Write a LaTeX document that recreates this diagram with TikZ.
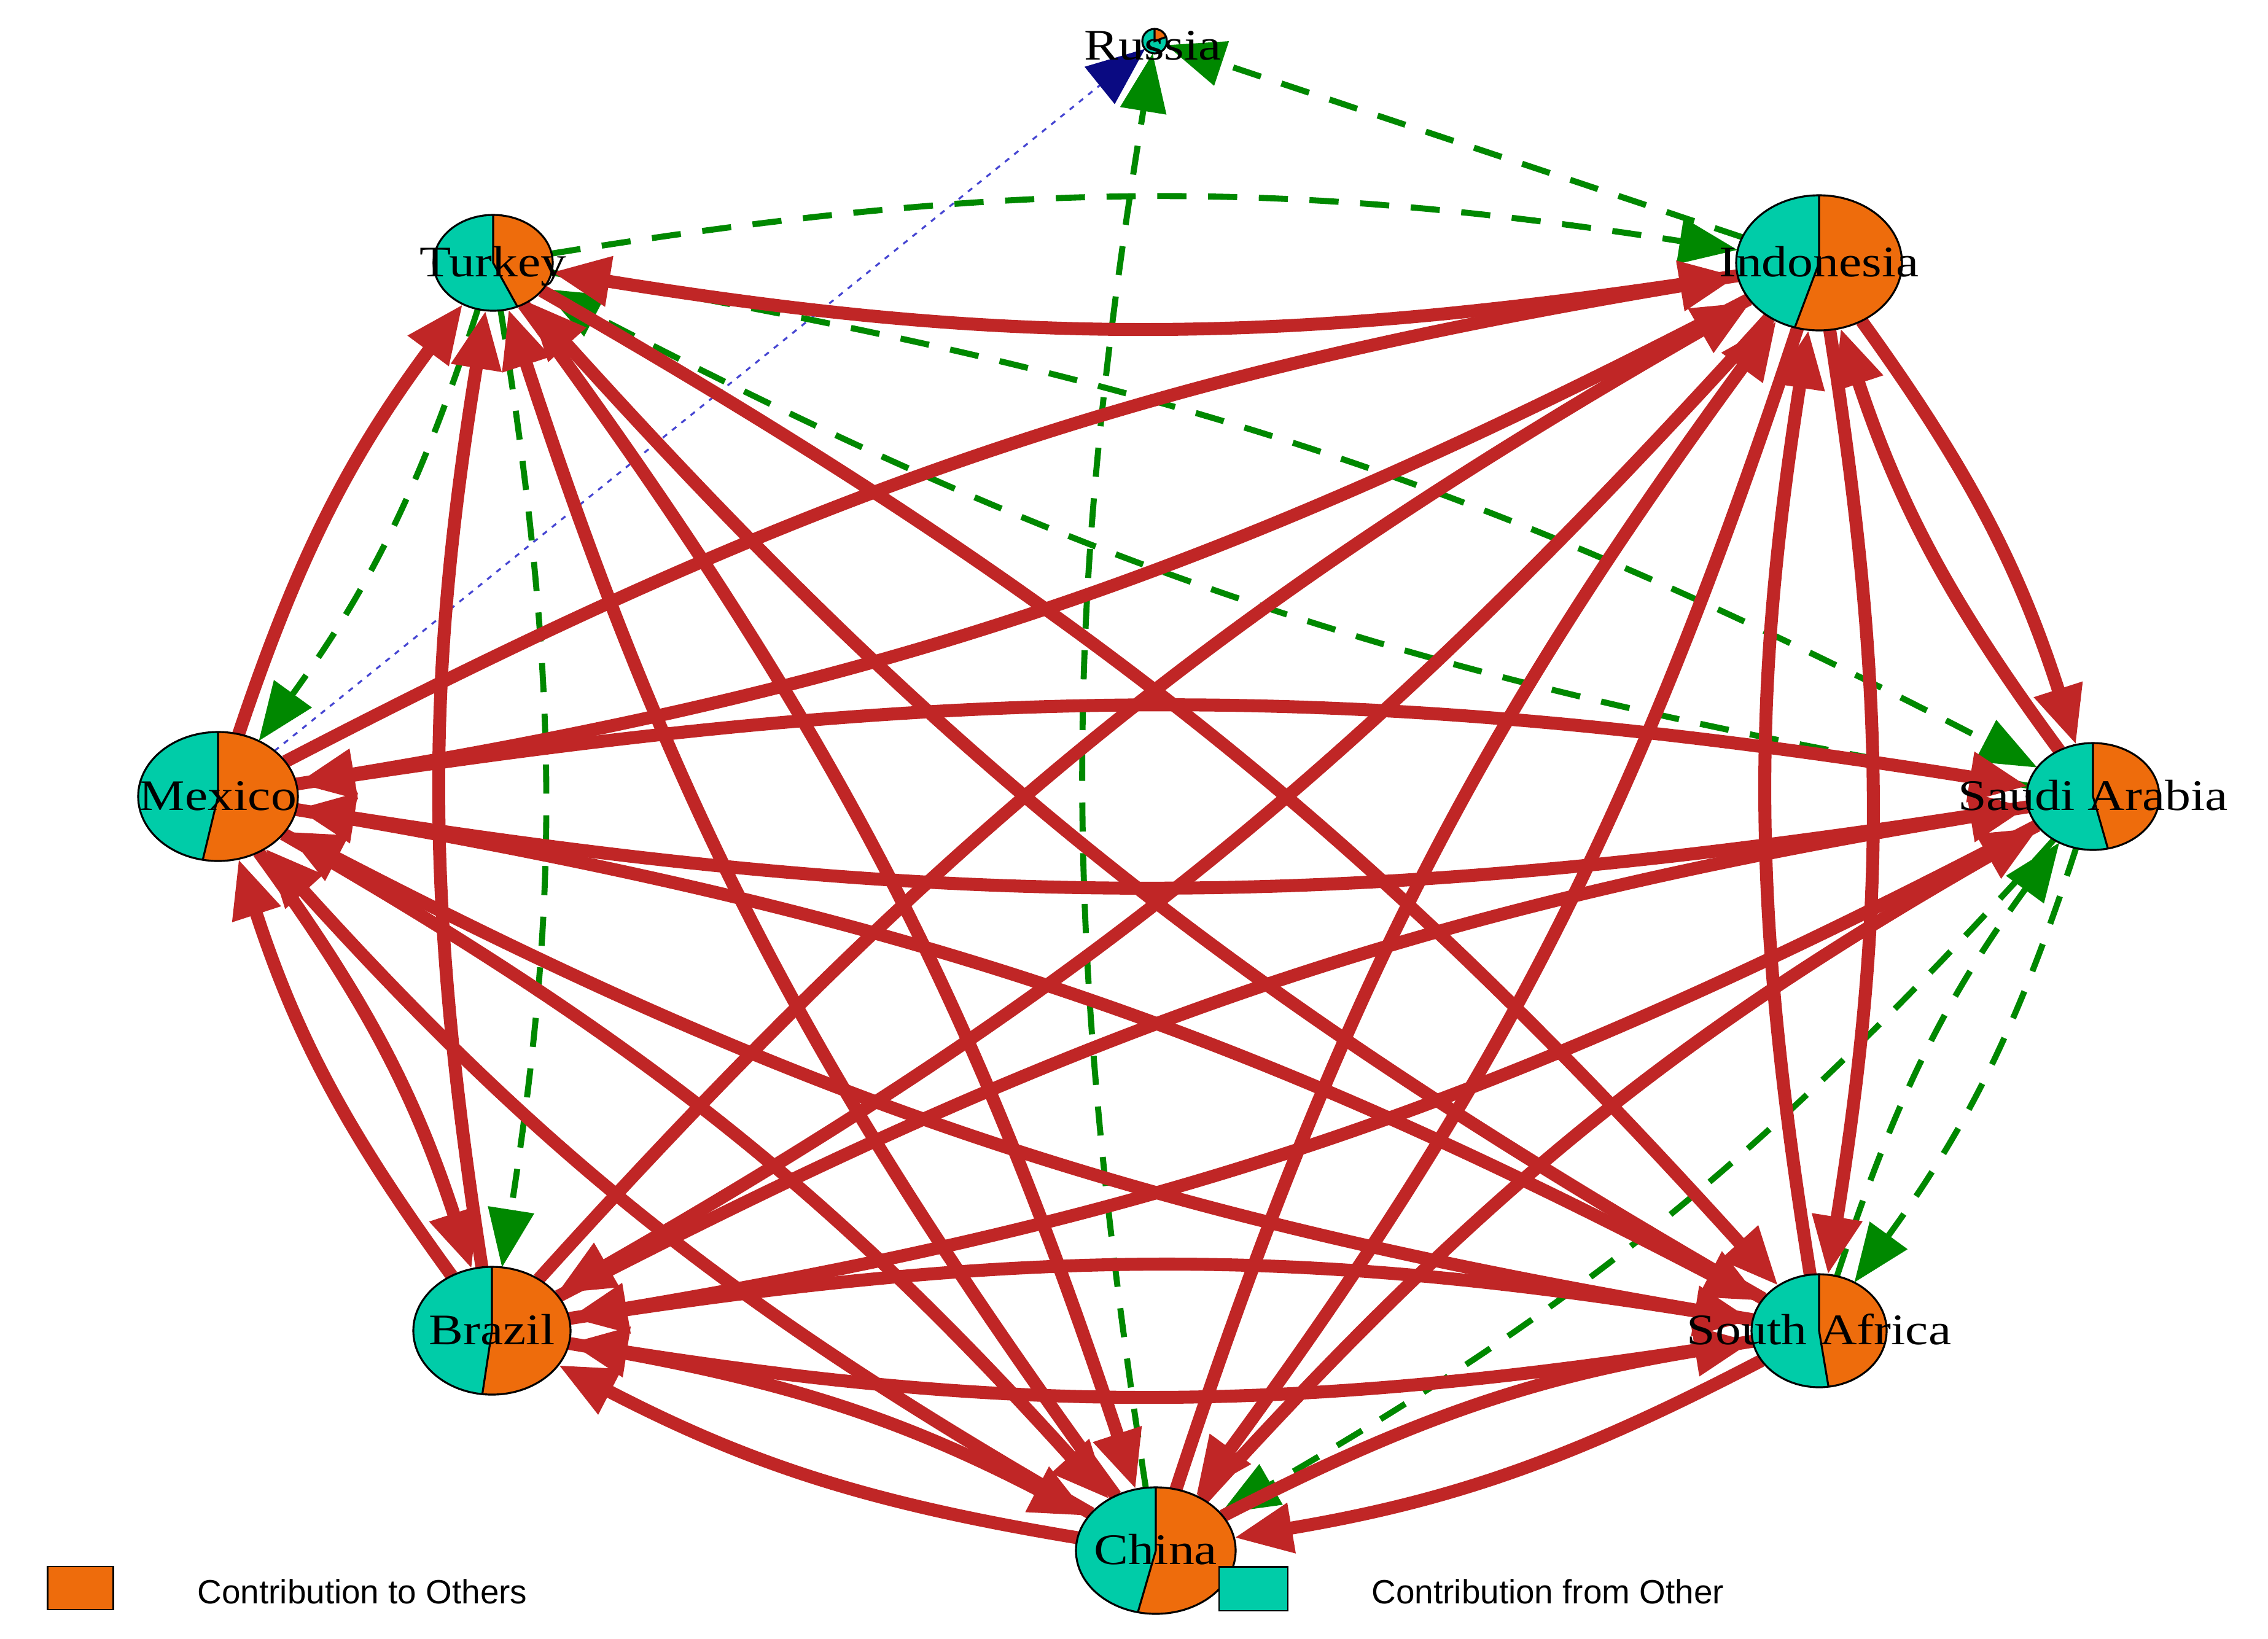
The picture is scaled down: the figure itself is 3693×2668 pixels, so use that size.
\documentclass[tikz,border=0pt]{standalone}
\usepackage{fontspec}
\setmainfont{Liberation Serif}
\newfontfamily\lblfont[FakeStretch=1.18]{Liberation Serif}
\newfontfamily\legfont{Liberation Sans}
\usetikzlibrary{arrows.meta,shapes.geometric}
\definecolor{edgered}{RGB}{192,38,38}
\definecolor{edgegreen}{RGB}{0,136,0}
\definecolor{edgeblue}{RGB}{70,70,210}
\definecolor{navyc}{RGB}{10,10,130}
\definecolor{pieteal}{RGB}{0,204,168}
\definecolor{pieorange}{RGB}{238,108,12}
\newcommand{\mypie}[4]{%
  \fill[pieteal] (#1.center) -- ++(90:#2 and #3) arc[start angle=90, end angle=360+#4, x radius=#2, y radius=#3] -- cycle;
  \fill[pieorange] (#1.center) -- ++(#4:#2 and #3) arc[start angle=#4, end angle=90, x radius=#2, y radius=#3] -- cycle;
  \draw[line width=0.9pt] (#1.center) ellipse [x radius=#2, y radius=#3];
  \draw[line width=0.9pt] (#1.center) ++(90:#2 and #3) -- (#1.center) -- ++(#4:#2 and #3);
}
\begin{document}
\begin{tikzpicture}[x=0.01cm,y=0.01cm,
  nd/.style={ellipse, inner sep=0pt, outer sep=0pt},
  lbl/.style={font=\lblfont\fontsize{20.2pt}{24pt}\selectfont, inner sep=0pt, anchor=base},
  legtext/.style={font=\legfont\fontsize{15.6pt}{18pt}\selectfont, inner sep=0pt, anchor=base west},
  redE/.style={draw=edgered, line width=6pt, -{Triangle[length=27pt,width=22pt]}, bend left=9},
  grnE/.style={draw=edgegreen, line width=2.8pt, dash pattern=on 13.5pt off 10pt, -{Triangle[length=27pt,width=21pt]}, bend left=9},
  grnS/.style={draw=edgegreen, line width=2.8pt, dash pattern=on 13.5pt off 10pt, -{Triangle[length=27pt,width=21pt]}},
  bluE/.style={draw=edgeblue, line width=0.9pt, dash pattern=on 2.5pt off 3pt, -{Triangle[length=27pt,width=22pt,color=navyc]}}
]
\useasboundingbox (0,0) rectangle (3693,-2668);
% nodes
\node[nd, minimum width=1.94cm, minimum height=1.56cm] (T) at (803,-428) {};
\node[nd, minimum width=2.70cm, minimum height=2.20cm] (I) at (2962,-428) {};
\node[nd, minimum width=2.60cm, minimum height=2.10cm] (M) at (355,-1297) {};
\node[nd, minimum width=2.16cm, minimum height=1.74cm] (SA) at (3408,-1297) {};
\node[nd, minimum width=2.56cm, minimum height=2.08cm] (B) at (801,-2167) {};
\node[nd, minimum width=2.20cm, minimum height=1.84cm] (ZA) at (2962,-2167) {};
\node[nd, minimum width=2.60cm, minimum height=2.06cm] (C) at (1882,-2525) {};
\node[nd, minimum width=0.40cm, minimum height=0.40cm] (R) at (1880,-67) {};
% weak edges
\draw[bluE] (M) -- (R);
\draw[grnS] (I) -- (R);
\draw[grnE] (C) to (R);
\foreach \a/\b in {T/I, T/M, T/B, T/SA, SA/T, SA/ZA, ZA/SA, SA/C}
  \draw[grnE] (\a) to (\b);
% strong edges
\foreach \a/\b in {I/T, M/T, B/T, ZA/T, C/T, T/ZA, T/C,
  I/M, M/I, I/SA, SA/I, I/B, B/I, I/ZA, ZA/I, I/C, C/I,
  M/SA, SA/M, M/B, B/M, M/ZA, ZA/M, M/C, C/M,
  SA/B, B/SA, C/SA,
  B/ZA, ZA/B, B/C, C/B, ZA/C, C/ZA}
  \draw[redE] (\a) to (\b);
% pies
\mypie{T}{97}{78}{-66}
\mypie{I}{135}{110}{-107}
\mypie{M}{130}{105}{-101}
\mypie{SA}{108}{87}{-77}
\mypie{B}{128}{104}{-97}
\mypie{ZA}{110}{92}{-82}
\mypie{C}{130}{103}{-103}
\mypie{R}{20}{20}{20}
% labels
\node[lbl] (Tl) at (803,-450) {Turkey};
\node[lbl] (Il) at (2962,-450) {Indonesia};
\node[lbl] (Ml) at (355,-1319) {Mexico};
\node[lbl] (SAl) at (3408,-1319) {Saudi Arabia};
\node[lbl] (Bl) at (801,-2189) {Brazil};
\node[lbl] (ZAl) at (2962,-2189) {South Africa};
\node[lbl] (Cl) at (1882,-2547) {China};
\node[lbl] (Rl) at (1877,-97) {Russia};
% legend
\node[draw, line width=0.6pt, fill=pieorange, minimum width=1.07cm, minimum height=0.70cm, inner sep=0pt] (legO) at (131,-2586) {};
\node[legtext] (legOt) at (321,-2611) {Contribution to Others};
\node[draw, line width=0.6pt, fill=pieteal, minimum width=1.12cm, minimum height=0.71cm, inner sep=0pt] (legT) at (2041,-2587) {};
\node[legtext] (legTt) at (2233,-2611) {Contribution from Other};
\end{tikzpicture}
\end{document}
